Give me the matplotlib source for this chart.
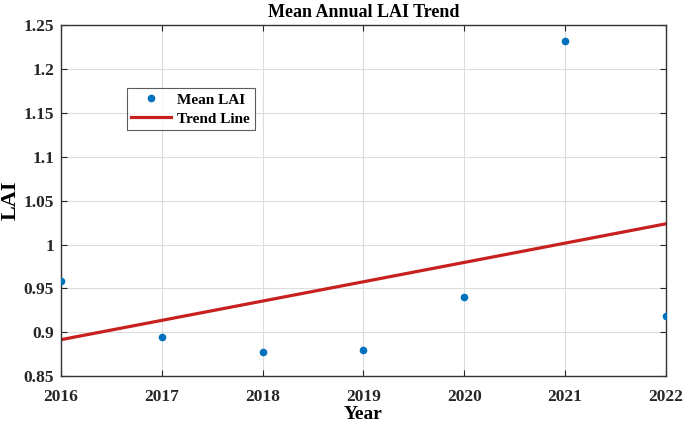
import matplotlib
matplotlib.use("Agg")
import matplotlib.pyplot as plt
import numpy as np

years = [2016, 2017, 2018, 2019, 2020, 2021, 2022]
mean_lai = [0.959, 0.895, 0.878, 0.880, 0.940, 1.232, 0.919]
y_ticks = [0.85, 0.9, 0.95, 1, 1.05, 1.1, 1.15, 1.2, 1.25]
y_tick_labels = ["0.85", "0.9", "0.95", "1", "1.05", "1.1", "1.15", "1.2", "1.25"]

plt.rcParams["font.family"] = ["Liberation Serif", "DejaVu Serif"]
plt.rcParams["font.weight"] = "bold"

coef = np.polyfit(years, mean_lai, 1)
trend = np.polyval(coef, years)

fig = plt.figure(figsize=(6.85, 4.26), dpi=100)
ax = fig.add_axes([0.089, 0.117, 0.883, 0.824])

ax.plot(years, mean_lai, "o", color="#0072BD", markersize=4.5, label="Mean LAI", zorder=3)
ax.plot(years, trend, "-", color="#C8201E", linewidth=2.3, label="Trend Line", zorder=2)

ax.set_xlim(2016, 2022)
ax.set_ylim(0.85, 1.25)
ax.set_xticks(years)
ax.set_xticklabels([str(y) for y in years])
ax.set_yticks(y_ticks)
ax.set_yticklabels(y_tick_labels)
ax.tick_params(direction="in", length=4, width=0.8, labelsize=12.5, colors="#262626",
               top=True, right=True)
ax.tick_params(axis="x", pad=9)
ax.tick_params(axis="y", pad=5)
for lbl in ax.get_xticklabels() + ax.get_yticklabels():
    lbl.set_color("#262626")
    lbl.set_fontweight("bold")
ax.grid(True, color="#DCDCDC", linewidth=0.8)
for sp in ax.spines.values():
    sp.set_color("#333333")
    sp.set_linewidth(1.0)

ax.set_title("Mean Annual LAI Trend", fontsize=13, fontweight="bold", pad=6)
ax.set_xlabel("Year", fontsize=14, fontweight="bold", labelpad=1)
ax.set_ylabel("LAI", fontsize=16, fontweight="bold", labelpad=2)

leg = ax.legend(loc="upper left", bbox_to_anchor=(0.109, 0.82), fontsize=11,
                frameon=True, fancybox=False, edgecolor="#333333",
                handlelength=2.6, handletextpad=0.4, borderpad=0.3,
                labelspacing=0.35, borderaxespad=0)
leg.get_frame().set_linewidth(0.8)
for t in leg.get_texts():
    t.set_fontweight("bold")

fig.savefig("out.png", dpi=100)
